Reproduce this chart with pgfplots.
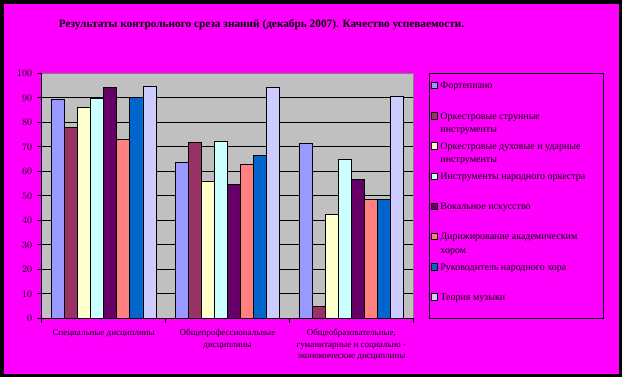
\documentclass[border=0pt]{standalone}
\usepackage{fontspec}
\setmainfont{Liberation Serif}
\newfontfamily\arialf{Liberation Sans}
\usepackage{pgfplots}
\pgfplotsset{compat=1.18}
\definecolor{bgmag}{HTML}{FF00FF}
\definecolor{plotgray}{HTML}{C0C0C0}
\definecolor{bordgray}{HTML}{808080}
\definecolor{c1}{HTML}{9999FF}
\definecolor{c2}{HTML}{993366}
\definecolor{c3}{HTML}{FFFFCC}
\definecolor{c4}{HTML}{CCFFFF}
\definecolor{c5}{HTML}{660066}
\definecolor{c6}{HTML}{FF8080}
\definecolor{c7}{HTML}{0066CC}
\definecolor{c8}{HTML}{CCCCFF}
\newcommand{\two}[2]{\parbox[t]{160bp}{\raggedright #1\strut\\#2\strut}}
\begin{document}
\begin{tikzpicture}
\useasboundingbox (0,0) rectangle (622bp,377bp);
\fill[black] (0,0) rectangle (622bp,377bp);
\fill[bgmag] (4bp,3bp) rectangle (619bp,373bp);
\node[font=\bfseries\fontsize{11.3bp}{13bp}\selectfont] at (261.5bp,352bp) {Результаты контрольного среза знаний (декабрь 2007). Качество успеваемости.};
\begin{axis}[
  at={(41.7bp,58.7bp)}, anchor=south west,
  scale only axis, width=371.6bp, height=245bp,
  ybar=0pt, bar width=0.1057,
  xmin=-0.5, xmax=2.5, ymin=0, ymax=100,
  xtick={0,1,2},
  xticklabels={Специальные дисциплины,{Общепрофессиональные\\дисциплины},{Общеобразовательные,\\гуманитарные и социально -\\экономические дисциплины}},
  minor xtick={-0.5,0.5,1.5,2.5},
  major x tick style={draw=none},
  ytick={0,10,...,90},
  extra y ticks={100}, extra y tick style={grid=none},
  ymajorgrids, major grid style={black, line width=0.8bp},
  axis background/.style={fill=plotgray, draw=bordgray, line width=0.8bp},
  axis x line*=bottom, axis y line*=left,
  axis line style={black, line width=0.8bp, -},
  tick align=outside,
  major tick length=4.5bp, minor tick length=4.5bp,
  tick style={black, line width=0.8bp},
  yticklabel style={font=\arialf\fontsize{10bp}{12bp}\selectfont, xshift=-1.5bp},
  xticklabel style={font=\fontsize{9bp}{11.5bp}\selectfont, align=center, yshift=-3bp},
  legend style={at={(1.0423,1.0012)}, anchor=north west, draw=black, line width=0.8bp, fill=none,
    inner sep=1.5bp, row sep=0pt, column sep=1.5bp,
    cells={anchor=base west},
    nodes={inner sep=1bp, text height=13bp, text depth=15.2bp,
      font=\fontsize{10bp}{13.4bp}\selectfont}},
  legend image code/.code={\draw[#1, line width=0.6bp] (0bp,0.3bp) rectangle (6.4bp,6.7bp);},
]
\addplot[fill=c1, draw=black, line width=0.8bp] coordinates {(0,89.4) (1,63.7) (2,71.4)};
\addplot[fill=c2, draw=black, line width=0.8bp] coordinates {(0,78.0) (1,71.8) (2,4.9)};
\addplot[fill=c3, draw=black, line width=0.8bp] coordinates {(0,86.0) (1,55.9) (2,42.4)};
\addplot[fill=c4, draw=black, line width=0.8bp] coordinates {(0,89.6) (1,72.2) (2,64.9)};
\addplot[fill=c5, draw=black, line width=0.8bp] coordinates {(0,94.3) (1,54.7) (2,56.7)};
\addplot[fill=c6, draw=black, line width=0.8bp] coordinates {(0,73.0) (1,62.8) (2,48.6)};
\addplot[fill=c7, draw=black, line width=0.8bp] coordinates {(0,90.0) (1,66.5) (2,48.6)};
\addplot[fill=c8, draw=black, line width=0.8bp] coordinates {(0,94.7) (1,94.3) (2,90.4)};
\legend{\two{Фортепиано}{},\two{Оркестровые струнные}{инструменты},\two{Оркестровые духовые и ударные}{инструменты},\two{Инструменты народного оркестра}{},\two{Вокальное искусство}{},\two{Дирижирование академическим}{хором},\two{Руководитель народного хора}{},\two{Теория музыки}{}}
\end{axis}
\end{tikzpicture}
\end{document}
